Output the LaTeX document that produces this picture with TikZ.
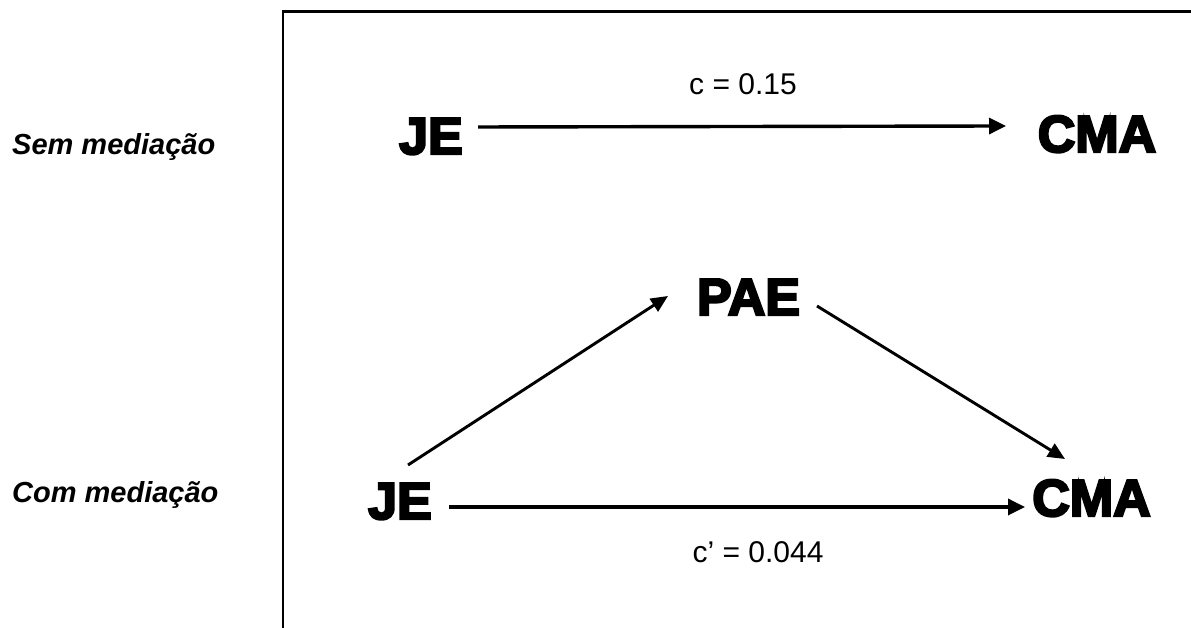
\documentclass[tikz,border=0pt]{standalone}
\usepackage{fontspec}
\setmainfont{Liberation Sans}
\newfontfamily\heavyfont[FakeBold=4.5]{Liberation Sans Bold}
\usetikzlibrary{arrows.meta}
\begin{document}
\begin{tikzpicture}[x=1pt,y=1pt,
  big/.style={font=\heavyfont\fontsize{52}{52}\selectfont, inner sep=0pt, anchor=base},
  side/.style={font=\bfseries\itshape\fontsize{29}{29}\selectfont, inner sep=0pt, anchor=base west},
  coef/.style={font=\fontsize{30}{30}\selectfont, inner sep=0pt, anchor=base},
  arr/.style={line width=3.4pt, -{Triangle[length=17pt,width=16pt]}},
  darr/.style={line width=2.9pt, -{Triangle[length=17pt,width=15pt]}},
  frame/.style={line width=2.8pt}]
\useasboundingbox (0,0) rectangle (1191,628);
\draw[frame] (283,-5) -- (283,616.5) -- (1200,616.5);
\node[side] (sem) at (12,473) {Sem mediação};
\node[side] (com) at (12,125) {Com mediação};
\node[big] (je1) at (431,474) {JE};
\node[big] (cma1) at (1097,476) {CMA};
\node[big] (pae) at (748.5,313) {PAE};
\node[big] (je2) at (400,109) {JE};
\node[big] (cma2) at (1091.5,112) {CMA};
\node[coef] (c1) at (743,533) {c = 0.15};
\node[coef] (c2) at (758,65) {c’ = 0.044};
\draw[arr] ([shift={(47,27)}]je1.base) -- ([shift={(-91,26)}]cma1.base);
\draw[arr] ([shift={(49,12)}]je2.base) -- ([shift={(-66.5,9)}]cma2.base);
\draw[darr] ([shift={(8,54)}]je2.base) -- ([shift={(-80.5,19)}]pae.base);
\draw[darr] ([shift={(68.5,9)}]pae.base) -- ([shift={(-26.5,57)}]cma2.base);
\end{tikzpicture}
\end{document}
